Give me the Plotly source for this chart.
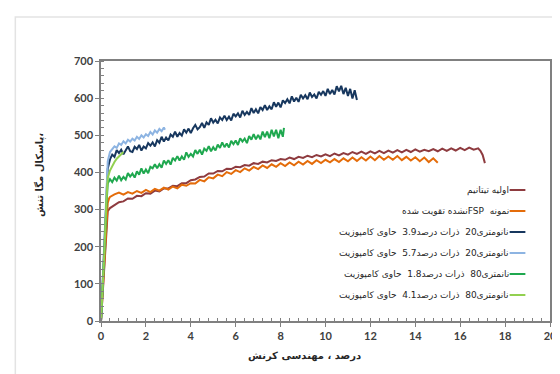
import plotly.graph_objects as go

def excel_order(pieces):
    # The reference shows the Persian words in left-to-right order; the browser lays
    # Persian out right-to-left, so the pieces are given in reverse to reproduce that.
    return "".join(reversed(pieces))

# ---------------- data ----------------
x_ti = [0, 0.08, 0.16, 0.24, 0.3,
        0.4, 0.6, 0.8, 1.0, 1.2, 1.4, 1.6, 1.8, 2.0, 2.2, 2.4, 2.6, 2.8, 3.0,
        3.2, 3.4, 3.6, 3.8, 4.0, 4.2, 4.4, 4.6, 4.8, 5.0, 5.2, 5.4, 5.6, 5.8, 6.0,
        6.2, 6.4, 6.6, 6.8, 7.0, 7.2, 7.4, 7.6, 7.8, 8.0, 8.2, 8.4, 8.6, 8.8, 9.0,
        9.2, 9.4, 9.6, 9.8, 10.0, 10.2, 10.4, 10.6, 10.8, 11.0, 11.2, 11.4, 11.6, 11.8, 12.0,
        12.2, 12.4, 12.6, 12.8, 13.0, 13.2, 13.4, 13.6, 13.8, 14.0, 14.2, 14.4, 14.6, 14.8, 15.0,
        15.2, 15.4, 15.6, 15.8, 16.0, 16.2, 16.4, 16.6, 16.8, 16.9, 17.0, 17.1]
y_ti = [0, 80, 170, 260, 296,
        304, 311, 320, 322, 330, 329, 337, 336, 344, 343, 351, 349, 357, 357,
        364, 363, 371, 371, 379, 381, 388, 389, 397, 397, 404, 403, 410, 409, 415,
        414, 420, 418, 425, 423, 429, 427, 433, 431, 436, 434, 440, 436, 442, 439,
        445, 441, 447, 443, 449, 444, 451, 446, 452, 448, 455, 450, 456, 450, 457,
        451, 458, 452, 459, 453, 460, 454, 461, 455, 462, 456, 461, 457, 463, 457,
        464, 458, 465, 459, 466, 460, 467, 461, 465, 458, 447, 425]

x_fsp = [0, 0.08, 0.16, 0.24, 0.3, 0.36,
         0.4, 0.6, 0.8, 1.0, 1.2, 1.4, 1.6, 1.8, 2.0, 2.2, 2.4, 2.6, 2.8, 3.0,
         3.2, 3.4, 3.6, 3.8, 4.0, 4.2, 4.4, 4.6, 4.8, 5.0, 5.2, 5.4, 5.6, 5.8, 6.0,
         6.2, 6.4, 6.6, 6.8, 7.0, 7.2, 7.4, 7.6, 7.8, 8.0, 8.2, 8.4, 8.6, 8.8, 9.0,
         9.2, 9.4, 9.6, 9.8, 10.0, 10.2, 10.4, 10.6, 10.8, 11.0, 11.2, 11.4, 11.6, 11.8, 12.0,
         12.2, 12.4, 12.6, 12.8, 13.0, 13.2, 13.4, 13.6, 13.8, 14.0, 14.2, 14.4, 14.6, 14.8, 15.0]
y_fsp = [0, 90, 190, 280, 318, 330,
         334, 341, 346, 340, 347, 343, 350, 345, 353, 347, 356, 351, 359, 354,
         362, 357, 367, 364, 371, 370, 380, 376, 387, 384, 394, 390, 401, 396, 406,
         401, 411, 405, 415, 409, 419, 412, 422, 415, 425, 417, 427, 419, 429, 421,
         431, 423, 433, 425, 434, 427, 436, 428, 438, 430, 440, 431, 441, 432, 443,
         433, 444, 434, 443, 434, 444, 433, 442, 432, 441, 430, 440, 428, 438, 426]

x_c39_20 = [0, 0.08, 0.16, 0.24, 0.3, 0.4,
            0.5, 0.6, 0.7, 0.8, 0.9, 1.0, 1.1, 1.2, 1.3, 1.4, 1.5, 1.6, 1.7, 1.8, 1.9,
            2.0, 2.1, 2.2, 2.3, 2.4, 2.5, 2.6, 2.7, 2.8, 2.9, 3.0, 3.1, 3.2, 3.3, 3.4,
            3.5, 3.6, 3.7, 3.8, 3.9, 4.0, 4.1, 4.2, 4.3, 4.4, 4.5, 4.6, 4.7, 4.8, 4.9,
            5.0, 5.1, 5.2, 5.3, 5.4, 5.5, 5.6, 5.7, 5.8, 5.9, 6.0, 6.1, 6.2, 6.3, 6.4,
            6.5, 6.6, 6.7, 6.8, 6.9, 7.0, 7.1, 7.2, 7.3, 7.4, 7.5, 7.6, 7.7, 7.8, 7.9,
            8.0, 8.1, 8.2, 8.3, 8.4, 8.5, 8.6, 8.7, 8.8, 8.9, 9.0, 9.1, 9.2, 9.3, 9.4,
            9.5, 9.6, 9.7, 9.8, 9.9, 10.0, 10.1, 10.2, 10.3, 10.4, 10.5, 10.6, 10.7, 10.8, 10.9,
            11.0, 11.1, 11.2, 11.3, 11.4]
y_c39_20 = [0, 100, 220, 340, 410, 435,
            448, 442, 460, 452, 461, 449, 460, 470, 457, 455, 469, 463, 474, 459, 470,
            465, 479, 472, 481, 470, 487, 480, 496, 483, 494, 486, 502, 496, 510, 496,
            506, 499, 516, 507, 518, 506, 519, 528, 516, 522, 533, 520, 535, 528, 546,
            534, 542, 532, 548, 541, 553, 541, 550, 540, 558, 551, 559, 548, 566, 555,
            563, 555, 573, 560, 570, 559, 576, 568, 581, 568, 578, 570, 589, 577, 588,
            575, 594, 587, 597, 586, 605, 591, 601, 590, 609, 599, 608, 597, 615, 603,
            610, 599, 617, 609, 619, 606, 625, 611, 622, 610, 632, 618, 633, 611, 628,
            606, 625, 599, 621, 595]

x_c57_20 = [0, 0.08, 0.16, 0.24, 0.3, 0.4,
            0.5, 0.6, 0.7, 0.8, 0.9, 1.0, 1.1, 1.2, 1.3, 1.4, 1.5, 1.6, 1.7, 1.8, 1.9,
            2.0, 2.1, 2.2, 2.3, 2.4, 2.5, 2.6, 2.7, 2.8, 2.85]
y_c57_20 = [0, 110, 240, 360, 430, 455,
            463, 470, 466, 478, 474, 484, 478, 488, 483, 491, 486, 496, 490, 500, 494,
            503, 498, 509, 502, 513, 507, 517, 511, 521, 515]

x_c18_80 = [0, 0.08, 0.16, 0.24, 0.3, 0.4,
            0.5, 0.6, 0.7, 0.8, 0.9, 1.0, 1.1, 1.2, 1.3, 1.4, 1.5, 1.6, 1.7, 1.8, 1.9,
            2.0, 2.1, 2.2, 2.3, 2.4, 2.5, 2.6, 2.7, 2.8, 2.9, 3.0, 3.1, 3.2, 3.3, 3.4,
            3.5, 3.6, 3.7, 3.8, 3.9, 4.0, 4.1, 4.2, 4.3, 4.4, 4.5, 4.6, 4.7, 4.8, 4.9,
            5.0, 5.1, 5.2, 5.3, 5.4, 5.5, 5.6, 5.7, 5.8, 5.9, 6.0, 6.1, 6.2, 6.3, 6.4,
            6.5, 6.6, 6.7, 6.8, 6.9, 7.0, 7.1, 7.2, 7.3, 7.4, 7.5, 7.6, 7.7, 7.8, 7.9,
            8.0, 8.1, 8.15]
y_c18_80 = [0, 90, 200, 310, 370, 382,
            374, 386, 378, 391, 379, 388, 381, 398, 389, 397, 386, 403, 394, 411, 397,
            408, 398, 415, 411, 422, 411, 422, 413, 432, 423, 433, 421, 439, 432, 444,
            432, 443, 434, 454, 442, 450, 443, 460, 450, 461, 448, 464, 458, 471, 457,
            468, 459, 475, 466, 481, 468, 478, 467, 485, 476, 486, 474, 492, 483, 491,
            479, 498, 488, 503, 489, 501, 489, 510, 495, 510, 492, 515, 497, 515, 492,
            515, 496, 520]

x_c41_80 = [0, 0.08, 0.16, 0.24, 0.3, 0.4, 0.5, 0.6, 0.7, 0.8, 0.9, 1.0]
y_c41_80 = [0, 90, 200, 320, 385, 405, 418, 428, 437, 444, 450, 455]

series_names = [
    excel_order(["تیتانیم", " ", "اولیه"]),
    excel_order(["نمونه", "  ", "FSP", "شده", " ", "تقویت", " ", "نشده"]),
    excel_order(["کامپوزیت", " ", "حاوی", "  ", "3.9", "درصد", " ", "ذرات", "  ", "20", "نانومتری"]),
    excel_order(["کامپوزیت", " ", "حاوی", "  ", "5.7", "درصد", " ", "ذرات", "  ", "20", "نانومتری"]),
    excel_order(["کامپوزیت", " ", "حاوی", "  ", "1.8", "درصد", " ", "ذرات", "  ", "80", "نانمتری"]),
    excel_order(["کامپوزیت", " ", "حاوی", "  ", "4.1", "درصد", " ", "ذرات", "  ", "80", "نانومتری"]),
]
series_colors = ["#8E3B3F", "#E46C0A", "#17375E", "#8DB4E2", "#1FA84F", "#92D050"]
series_x = [x_ti, x_fsp, x_c39_20, x_c57_20, x_c18_80, x_c41_80]
series_y = [y_ti, y_fsp, y_c39_20, y_c57_20, y_c18_80, y_c41_80]

x_ticks = [0, 2, 4, 6, 8, 10, 12, 14, 16, 18, 20]
y_ticks = [0, 100, 200, 300, 400, 500, 600, 700]

x_title = excel_order(["کرنش", " ", "مهندسی", " ", "،", " ", "درصد"])
y_title = excel_order(["تنش،", " ", "مگا", " ", "پاسکال"])

# ---------------- figure ----------------
fig = go.Figure()
for name, col, xs, ys in zip(series_names, series_colors, series_x, series_y):
    fig.add_trace(go.Scatter(x=xs, y=ys, mode="lines", name=name,
                             line=dict(color=col, width=2), showlegend=False))

W, H = 560, 374
L, R, T, B = 93, 11, 53, 61
pw, ph = W - L - R, H - T - B

def px_to_paper(xp, yp):
    return (xp - L) / pw, (H - B - yp) / ph

tick_font = dict(family="Lato, Liberation Sans, sans-serif", size=11, color="#404040",
                 weight="bold")
axis_common = dict(showline=True, linecolor="#808080", linewidth=1.5, mirror=True,
                   showgrid=False, zeroline=False, ticks="outside", ticklen=4,
                   tickcolor="#808080", tickwidth=1, tickfont=tick_font)

fig.update_xaxes(range=[0, 20], tickvals=x_ticks, ticktext=[str(v) for v in x_ticks],
                 minor=dict(dtick=0.4, ticks="inside", ticklen=3, tickcolor="#808080"),
                 **axis_common)
fig.update_yaxes(range=[0, 700], tickvals=y_ticks, ticktext=[str(v) for v in y_ticks],
                 minor=dict(dtick=20, ticks="inside", ticklen=3, tickcolor="#808080"),
                 **axis_common)

# legend inside the plot (line sample to the right of the text)
legend_top_px = 182
legend_step_px = 21
for i, (name, col) in enumerate(zip(series_names, series_colors)):
    yp = legend_top_px + i * legend_step_px
    x0, yy = px_to_paper(508, yp)
    x1, _ = px_to_paper(524, yp)
    fig.add_shape(type="line", xref="paper", yref="paper", x0=x0, x1=x1, y0=yy, y1=yy,
                  line=dict(color=col, width=2))
    xt, _ = px_to_paper(509, yp)
    fig.add_annotation(xref="paper", yref="paper", x=xt, y=yy, text=name, showarrow=False,
                       xanchor="right", yanchor="middle",
                       font=dict(family="DejaVu Sans, sans-serif", size=9, color="#262626"))

# axis titles
xt, yt = px_to_paper(300, 348)
fig.add_annotation(xref="paper", yref="paper", x=xt, y=yt, text="<b>" + x_title + "</b>",
                   showarrow=False, xanchor="center", yanchor="middle",
                   font=dict(family="DejaVu Sans, sans-serif", size=10, color="#262626"))
xt, yt = px_to_paper(30, 167)
fig.add_annotation(xref="paper", yref="paper", x=xt, y=yt, text="<b>" + y_title + "</b>",
                   showarrow=False, xanchor="center", yanchor="middle", textangle=-90,
                   font=dict(family="DejaVu Sans, sans-serif", size=10, color="#262626"))

# light outer chart frame
fx0, fy0 = px_to_paper(6, 9)
fx1, fy1 = px_to_paper(566, 380)
fig.add_shape(type="rect", xref="paper", yref="paper", x0=fx0, y0=fy1, x1=fx1, y1=fy0,
              line=dict(color="#e3e3e3", width=1.5), layer="below")

fig.update_layout(width=W, height=H, margin=dict(l=L, r=R, t=T, b=B),
                  paper_bgcolor="white", plot_bgcolor="white", showlegend=False)

fig.write_html("out.html")
